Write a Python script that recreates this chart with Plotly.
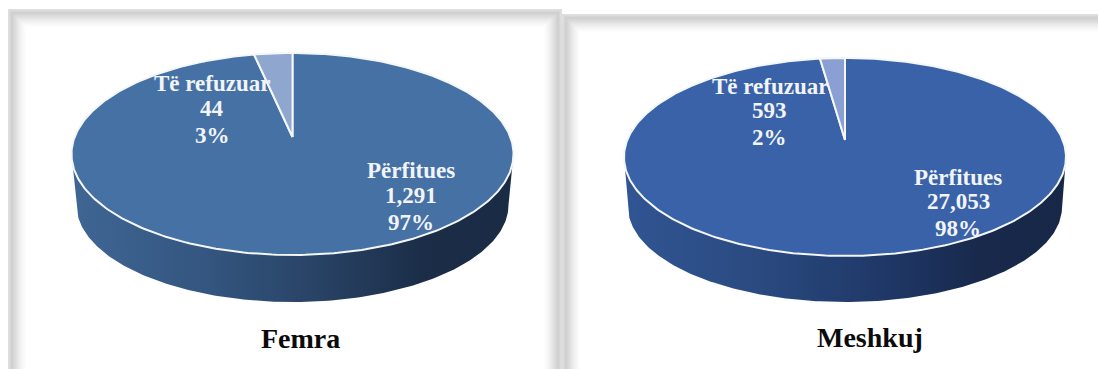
import numpy as np
import plotly.graph_objects as go

# ---- data ----
categories = ["Përfitues", "Të refuzuar"]
femra_values = [1291, 44]
meshkuj_values = [27053, 593]
chart_titles = ["Femra", "Meshkuj"]

# ---- geometry / style ----
W, H = 1098, 369
FONT = "Liberation Serif"
CHARTS = [
    dict(title=chart_titles[0], values=femra_values, cx=292.5, cy=154, a=221, b=101, apex=137,
         cx2=292.5, cy2=205, a2=216, b2=97,
         top="#4671A5", wedge="#8FA6CE",
         side=[[0, "#3F6694"], [0.3, "#345680"], [0.6, "#263F60"], [0.8, "#1B2D47"], [1, "#1A2B44"]],
         lab=[(411, [170, 195, 222]), (212, [83, 108, 135])], title_xy=(300, 338)),
    dict(title=chart_titles[1], values=meshkuj_values, cx=845, cy=157, a=221, b=99, apex=140,
         cx2=845, cy2=207, a2=217, b2=95,
         top="#3A62A9", wedge="#8A9FD3",
         side=[[0, "#315593"], [0.3, "#2A4A80"], [0.6, "#1F3766"], [0.8, "#18294C"], [1, "#172747"]],
         lab=[(958, [177, 201, 228]), (769.5, [86, 110, 137])], title_xy=(870, 337)),
]
PANELS = [(8, 9, 562), (562, 14, W + 30)]
FRAME_GREYS = [222, 220, 214, 208, 209, 213, 217, 221, 225, 229, 233, 237, 240, 243, 246, 249, 251, 253, 254, 255]


def project(theta, p):
    """Circle angle (clockwise from 12 o'clock) to unit-ellipse coordinates seen in perspective."""
    u, v = np.sin(theta), np.cos(theta)
    d = 1 + p * v
    return u * np.sqrt(1 - p * p) / d, (v + p) / d


fig = go.Figure()
shapes = []
for x0, y0, x1 in PANELS:
    for i, g in enumerate(FRAME_GREYS):
        shapes.append(dict(type="rect", xref="x", yref="y", x0=x0 + i, x1=x1 - i, y0=y0 + i, y1=H + 40,
                           fillcolor=f"rgb({g},{g},{g})", line_width=0, layer="below"))

annotations = []
for c in CHARTS:
    # extruded side
    th = np.linspace(-np.pi / 2, np.pi / 2, 200)
    xs = np.r_[c["cx"] - c["a"], c["cx2"] + c["a2"] * np.sin(th), c["cx"] + c["a"]]
    ys = np.r_[c["cy"], c["cy2"] + c["b2"] * np.cos(th), c["cy"]]
    fig.add_trace(go.Scatter(x=xs, y=ys, mode="lines", fill="toself", line_width=0, hoverinfo="skip",
                             fillgradient=dict(type="horizontal", colorscale=c["side"]), showlegend=False))
    # top slices
    total = sum(c["values"])
    p = (c["cy"] - c["apex"]) / c["b"]
    start = 0.0
    for name, val, col in zip(categories, c["values"], [c["top"], c["wedge"]]):
        end = start + 2 * np.pi * val / total
        t = np.linspace(start, end, max(int(400 * val / total), 12))
        u, v = project(t, p)
        xs = np.r_[c["cx"], c["cx"] + c["a"] * u, c["cx"]]
        ys = np.r_[c["apex"], c["cy"] - c["b"] * v, c["apex"]]
        fig.add_trace(go.Scatter(x=xs, y=ys, mode="lines", fill="toself", fillcolor=col, name=name,
                                 line=dict(color="#F4F6F8", width=2), hoverinfo="skip", showlegend=False))
        start = end
    # data labels
    for name, val, (lx, lys) in zip(categories, c["values"], c["lab"]):
        lines = [name, f"{val:,}", f"{round(100 * val / total)}%"]
        for txt, ly in zip(lines, lys):
            annotations.append(dict(x=lx, y=ly, xref="x", yref="y", text=f"<b>{txt}</b>", showarrow=False,
                                    xanchor="center", yanchor="middle",
                                    font=dict(family=FONT, size=23, color="#F2F4F8")))
    annotations.append(dict(x=c["title_xy"][0], y=c["title_xy"][1], xref="x", yref="y",
                            text=f"<b>{c['title']}</b>", showarrow=False, xanchor="center", yanchor="middle",
                            font=dict(family=FONT, size=28, color="#0B0B0B")))

fig.update_layout(
    width=W, height=H, margin=dict(l=0, r=0, t=0, b=0), showlegend=False,
    paper_bgcolor="white", plot_bgcolor="white", shapes=shapes, annotations=annotations,
    xaxis=dict(range=[0, W], visible=False, fixedrange=True),
    yaxis=dict(range=[H, 0], visible=False, fixedrange=True),
)
fig.write_html("out.html", config=dict(displayModeBar=False),
               post_script="document.body.style.margin='0';document.documentElement.style.overflow='hidden';")
